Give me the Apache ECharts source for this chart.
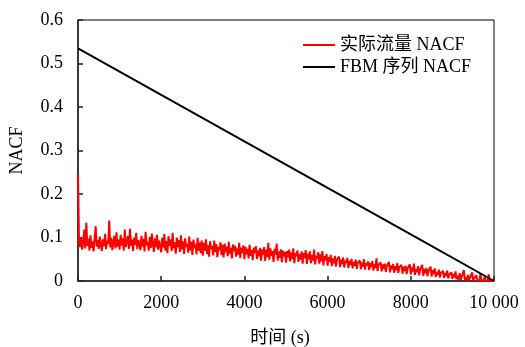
<!DOCTYPE html>
<html>
<head>
<meta charset="utf-8">
<script src="https://cdn.jsdelivr.net/npm/echarts@6/dist/echarts.min.js"></script>
<style>
  html, body { margin: 0; padding: 0; background: #fff; }
  #chart { width: 525px; height: 347px; }
</style>
</head>
<body>
<div id="chart"></div>
<script>
// tick values on both axes
var xTicks = [0, 2000, 4000, 6000, 8000, 10000];
var yTicks = [0, 0.1, 0.2, 0.3, 0.4, 0.5, 0.6];

// 实际流量 NACF, one value per 25 s lag
var flowStep = 25;
var flowNacf = [
  0.246, 0.092, 0.078, 0.101, 0.072, 0.088, 0.118, 0.075, 0.134, 0.081, 0.097, 0.070, 0.105, 0.076, 0.091, 0.068, 0.099, 0.126, 0.079, 0.094,
  0.074, 0.102, 0.083, 0.069, 0.096, 0.080, 0.108, 0.073, 0.093, 0.085, 0.139, 0.077, 0.099, 0.071, 0.090, 0.104, 0.075, 0.112, 0.079, 0.095,
  0.072, 0.106, 0.082, 0.098, 0.070, 0.118, 0.078, 0.092, 0.103, 0.074, 0.120, 0.081, 0.095, 0.069, 0.100, 0.083, 0.111, 0.073, 0.094, 0.086,
  0.071, 0.104, 0.079, 0.097, 0.068, 0.113, 0.082, 0.090, 0.070, 0.101, 0.076, 0.109, 0.085, 0.067, 0.098, 0.078, 0.106, 0.072, 0.093, 0.080,
  0.066, 0.099, 0.077, 0.108, 0.070, 0.092, 0.064, 0.103, 0.081, 0.096, 0.069, 0.111, 0.075, 0.089, 0.063, 0.100, 0.078, 0.094, 0.067, 0.105,
  0.073, 0.091, 0.062, 0.098, 0.079, 0.086, 0.065, 0.102, 0.071, 0.090, 0.060, 0.095, 0.076, 0.084, 0.061, 0.099, 0.070, 0.088, 0.064, 0.093,
  0.058, 0.087, 0.070, 0.096, 0.062, 0.082, 0.056, 0.091, 0.074, 0.080, 0.059, 0.093, 0.067, 0.085, 0.055, 0.078, 0.071, 0.089, 0.060, 0.083,
  0.054, 0.086, 0.066, 0.079, 0.057, 0.090, 0.063, 0.076, 0.052, 0.084, 0.069, 0.081, 0.056, 0.075, 0.061, 0.088, 0.053, 0.077, 0.065, 0.082,
  0.050, 0.079, 0.062, 0.074, 0.052, 0.083, 0.058, 0.071, 0.048, 0.077, 0.064, 0.080, 0.051, 0.070, 0.057, 0.076, 0.047, 0.073, 0.060, 0.078,
  0.046, 0.072, 0.055, 0.088, 0.049, 0.075, 0.058, 0.069, 0.044, 0.074, 0.061, 0.086, 0.047, 0.068, 0.053, 0.073, 0.043, 0.070, 0.056, 0.067,
  0.042, 0.069, 0.054, 0.072, 0.045, 0.066, 0.051, 0.075, 0.041, 0.064, 0.057, 0.070, 0.044, 0.062, 0.049, 0.068, 0.040, 0.065, 0.053, 0.071,
  0.039, 0.063, 0.050, 0.068, 0.041, 0.060, 0.047, 0.072, 0.038, 0.058, 0.052, 0.066, 0.040, 0.061, 0.045, 0.069, 0.036, 0.057, 0.048, 0.062,
  0.035, 0.055, 0.044, 0.060, 0.034, 0.052, 0.041, 0.058, 0.033, 0.050, 0.046, 0.056, 0.032, 0.049, 0.039, 0.054, 0.031, 0.047, 0.042, 0.053,
  0.030, 0.046, 0.037, 0.051, 0.029, 0.044, 0.035, 0.049, 0.028, 0.042, 0.038, 0.047, 0.027, 0.043, 0.033, 0.050, 0.026, 0.041, 0.036, 0.045,
  0.025, 0.041, 0.032, 0.046, 0.024, 0.039, 0.030, 0.052, 0.023, 0.037, 0.033, 0.043, 0.022, 0.038, 0.028, 0.040, 0.021, 0.035, 0.031, 0.044,
  0.020, 0.036, 0.027, 0.039, 0.019, 0.034, 0.025, 0.041, 0.018, 0.032, 0.028, 0.037, 0.017, 0.033, 0.023, 0.035, 0.016, 0.030, 0.026, 0.038,
  0.015, 0.031, 0.022, 0.040, 0.014, 0.028, 0.020, 0.034, 0.013, 0.026, 0.024, 0.037, 0.012, 0.027, 0.018, 0.030, 0.011, 0.023, 0.021, 0.033,
  0.010, 0.025, 0.016, 0.029, 0.009, 0.021, 0.014, 0.026, 0.008, 0.019, 0.017, 0.023, 0.007, 0.018, 0.012, 0.024, 0.006, 0.015, 0.013, 0.020,
  0.005, 0.016, 0.008, 0.022, 0.004, 0.012, 0.003, 0.018, 0.002, 0.010, 0.006, 0.025, 0.002, 0.009, 0.001, 0.014, 0.002, 0.007, 0.003, 0.020,
  0.001, 0.006, 0.002, 0.013, 0.001, 0.004, 0.000, 0.018, 0.001, 0.003, 0.000, 0.010, 0.001, 0.002, 0.000, 0.015, 0.000, 0.003, 0.001, 0.005,
  0.000
];

// FBM 序列 NACF (straight line)
var fbmLag = [0, 2000, 4000, 6000, 8000, 10000];
var fbmNacf = [0.535, 0.428, 0.321, 0.214, 0.107, 0.0];

var seriesNames = ['实际流量 NACF', 'FBM 序列 NACF'];

var font = '"Times New Roman", "Liberation Serif", "Noto Sans CJK SC", serif';

var flowData = [];
flowNacf.forEach(function(v, i) {
  flowData.push([i * flowStep, v]);
});
var fbmData = [];
fbmLag.forEach(function(x, i) {
  fbmData.push([x, fbmNacf[i]]);
});

var option = {
  animation: false,
  backgroundColor: '#fff',
  grid: {
    left: 78,
    right: 31,
    top: 20,
    bottom: 66,
    outerBoundsMode: 'none',
    containLabel: false,
    show: true,
    borderColor: '#000',
    borderWidth: 1
  },
  legend: {
    orient: 'vertical',
    left: 298,
    top: 31,
    itemWidth: 32,
    itemHeight: 2,
    itemGap: 4,
    icon: 'rect',
    data: seriesNames,
    textStyle: { fontFamily: font, fontSize: 18, color: '#000' }
  },
  xAxis: {
    type: 'value',
    min: xTicks[0],
    max: xTicks[xTicks.length - 1],
    interval: 2000,
    name: '时间 (s)',
    nameLocation: 'middle',
    nameGap: 48,
    nameTextStyle: { fontFamily: font, fontSize: 18, color: '#000', padding: [0, 12, 0, 0] },
    axisLine: { lineStyle: { color: '#222', width: 1.5 } },
    axisTick: { inside: true, length: 5, lineStyle: { color: '#222', width: 1.5 } },
    splitLine: { show: false },
    axisLabel: {
      margin: 13,
      fontFamily: font,
      fontSize: 18,
      color: '#000',
      formatter: function(v) {
        return v === 10000 ? '10 000' : String(v);
      }
    }
  },
  yAxis: {
    type: 'value',
    min: yTicks[0],
    max: yTicks[yTicks.length - 1],
    interval: 0.1,
    name: 'NACF',
    nameLocation: 'middle',
    nameGap: 52,
    nameTextStyle: { fontFamily: font, fontSize: 18, color: '#000' },
    axisLine: { show: true, lineStyle: { color: '#222', width: 1.5 } },
    axisTick: { show: true, inside: true, length: 5, lineStyle: { color: '#222', width: 1.5 } },
    splitLine: { show: false },
    axisLabel: {
      margin: 15,
      fontFamily: font,
      fontSize: 18,
      color: '#000',
      formatter: function(v) {
        return v === 0 ? '0' : v.toFixed(1);
      }
    }
  },
  series: [
    {
      name: seriesNames[0],
      type: 'line',
      data: flowData,
      showSymbol: false,
      symbol: 'none',
      color: '#ff0000',
      lineStyle: { color: '#ff0000', width: 2 }
    },
    {
      name: seriesNames[1],
      type: 'line',
      data: fbmData,
      showSymbol: false,
      symbol: 'none',
      color: '#000',
      lineStyle: { color: '#000', width: 2 }
    }
  ]
};

var chart = echarts.init(document.getElementById('chart'), null, { renderer: 'canvas' });
chart.setOption(option);
</script>
</body>
</html>
